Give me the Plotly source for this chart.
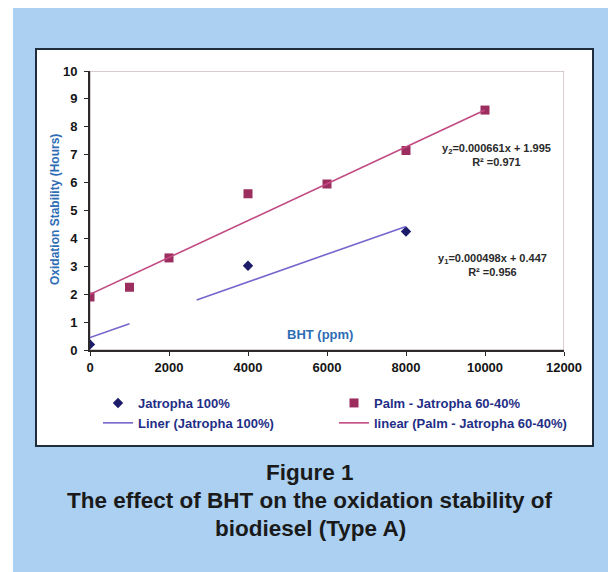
import plotly.graph_objects as go

# ---- data ----
bht_jatropha = [0, 4000, 8000]
os_jatropha = [0.2, 3.02, 4.25]
bht_palm = [0, 1000, 2000, 4000, 6000, 8000, 10000]
os_palm = [1.9, 2.25, 3.3, 5.6, 5.95, 7.15, 8.6]

# trend line coefficients (as printed on the chart)
slope_j, icpt_j = 0.000498, 0.447
slope_p, icpt_p = 0.000661, 1.995
trend_x_j = [0, 1000, None, 2700, 8000]
trend_x_p = [0, 10000]

x_ticks = [0, 2000, 4000, 6000, 8000, 10000, 12000]
y_ticks = list(range(0, 11))

trend_y_j = [None if x is None else slope_j * x + icpt_j for x in trend_x_j]
trend_y_p = [slope_p * x + icpt_p for x in trend_x_p]

# ---- geometry (page pixels; the page has an 8px body margin) ----
OFF = 8
W, H = 616 - OFF, 572 - OFF
PLOT_L, PLOT_R, PLOT_T, PLOT_B = 90, 564, 71, 350   # page coords of plot area
L, T = PLOT_L - OFF, PLOT_T - OFF
R, B = W - (PLOT_R - OFF), H - (PLOT_B - OFF)
PW, PH = PLOT_R - PLOT_L, PLOT_B - PLOT_T


def px(x):
    return (x - PLOT_L) / PW


def py(y):
    return (PLOT_B - y) / PH


FONT = "Liberation Sans, Arial, sans-serif"

fig = go.Figure()
fig.add_trace(go.Scatter(
    x=bht_jatropha, y=os_jatropha, mode="markers", name="Jatropha 100%",
    marker=dict(symbol="diamond", size=8, color="#1c1c6b")))
fig.add_trace(go.Scatter(
    x=bht_palm, y=os_palm, mode="markers", name="Palm - Jatropha 60-40%",
    marker=dict(symbol="square", size=9, color="#9b2d5f")))
fig.add_trace(go.Scatter(
    x=trend_x_j, y=trend_y_j, mode="lines", name="Liner (Jatropha 100%)",
    line=dict(color="#7466cc", width=1.6), connectgaps=False))
fig.add_trace(go.Scatter(
    x=trend_x_p, y=trend_y_p, mode="lines", name="linear (Palm - Jatropha 60-40%)",
    line=dict(color="#c24a82", width=1.6)))

shapes = [
    dict(type="rect", xref="paper", yref="paper", x0=px(13), x1=px(640),
         y0=py(0), y1=py(600), fillcolor="#abd0f2", line=dict(width=0), layer="below"),
    dict(type="rect", xref="paper", yref="paper", x0=px(36), x1=px(593),
         y0=py(49), y1=py(446), fillcolor="white",
         line=dict(color="#1f2d3d", width=2), layer="below"),
    dict(type="rect", xref="x", yref="y", x0=0, x1=12000, y0=0, y1=10,
         line=dict(color="#b49a9a", width=1), layer="below"),
]

eq_font = dict(family=FONT, size=11, color="#2a2a2a", weight="bold")
title_font = dict(family=FONT, size=22.5, color="#1a1a1a")
annotations = [
    dict(x=10280, y=6.99, xref="x", yref="y", showarrow=False, align="center",
         xanchor="center", yanchor="middle",
         text="y<sub>2</sub>=0.000661x + 1.995<br>R² =0.971", font=eq_font),
    dict(x=10200, y=3.05, xref="x", yref="y", showarrow=False, align="center",
         xanchor="center", yanchor="middle",
         text="y<sub>1</sub>=0.000498x + 0.447<br>R² =0.956", font=eq_font),
    dict(x=5820, y=0.54, xref="x", yref="y", showarrow=False,
         xanchor="center", yanchor="middle",
         text="<b>BHT (ppm)</b>", font=dict(family=FONT, size=13, color="#2e6db4")),
    dict(x=px(55), y=py(210), xref="paper", yref="paper", showarrow=False,
         xanchor="center", yanchor="middle",
         textangle=-90, text="<b>Oxidation Stability (Hours)</b>",
         font=dict(family=FONT, size=12, color="#2e6db4")),
    dict(x=px(310), y=py(472), xref="paper", yref="paper", showarrow=False,
         xanchor="center", yanchor="middle",
         text="<b>Figure 1</b>", font=title_font),
    dict(x=px(310), y=py(500), xref="paper", yref="paper", showarrow=False,
         xanchor="center", yanchor="middle",
         text="<b>The effect of BHT on the oxidation stability of</b>", font=title_font),
    dict(x=px(310), y=py(528), xref="paper", yref="paper", showarrow=False,
         xanchor="center", yanchor="middle",
         text="<b>biodiesel (Type A)</b>", font=title_font),
]

fig.update_layout(
    width=W, height=H,
    margin=dict(l=L, r=R, t=T, b=B, autoexpand=False),
    paper_bgcolor="white", plot_bgcolor="rgba(0,0,0,0)",
    showlegend=True,
    legend=dict(orientation="h", x=px(98), xanchor="left", y=py(388), yanchor="top",
                entrywidth=191, traceorder="normal",
                font=dict(family=FONT, size=13, color="#1f2f86", weight="bold"),
                bgcolor="rgba(0,0,0,0)"),
    shapes=shapes, annotations=annotations,
    xaxis=dict(range=[0, 12000], tickvals=x_ticks, ticktext=[str(v) for v in x_ticks],
               showgrid=False, zeroline=False, showline=True, linecolor="#2a2a2a",
               linewidth=2, ticks="outside", ticklen=4, tickcolor="#2a2a2a",
               tickfont=dict(family=FONT, size=13, color="#151515", weight="bold")),
    yaxis=dict(range=[0, 10], tickvals=y_ticks, ticktext=[str(v) for v in y_ticks],
               showgrid=False, zeroline=False, showline=True, linecolor="#2a2a2a",
               linewidth=2, ticks="outside", ticklen=4, tickcolor="#2a2a2a",
               ticklabelstandoff=4,
               tickfont=dict(family=FONT, size=13, color="#151515", weight="bold")),
)

fig.write_html("out.html")
